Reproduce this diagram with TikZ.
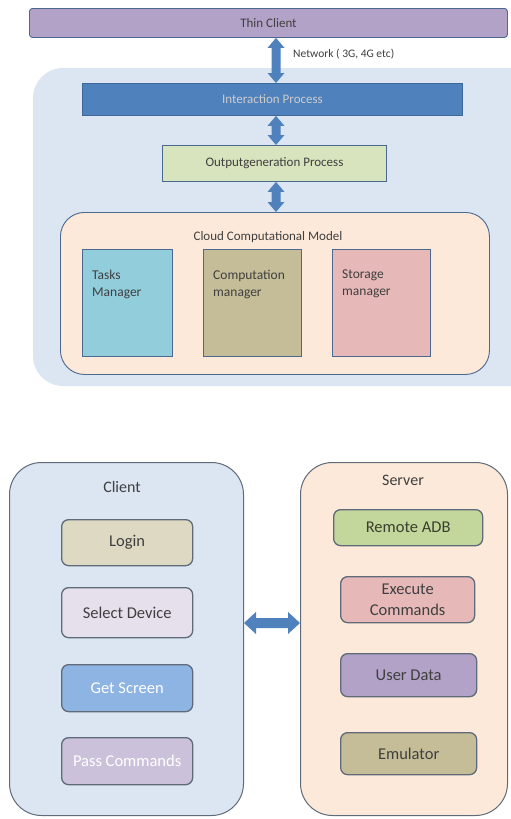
\documentclass[tikz,border=0pt]{standalone}
\usepackage{fontspec}
\setmainfont{Carlito}
\usetikzlibrary{calc}
\definecolor{txt}{HTML}{3F3F3F}
\definecolor{edge}{HTML}{4A6890}
\definecolor{gedge}{HTML}{5F6B78}
\definecolor{arrowblue}{HTML}{4F81BD}
\definecolor{paleblue}{HTML}{DCE6F2}
\definecolor{peach}{HTML}{FDE9D9}
\definecolor{purple1}{HTML}{B3A2C7}
\definecolor{green1}{HTML}{D7E4BD}
\definecolor{cyan1}{HTML}{92CDDC}
\definecolor{olive1}{HTML}{C4BD97}
\definecolor{rose1}{HTML}{E6B9B8}
\definecolor{tan1}{HTML}{DDD9C3}
\definecolor{lilac1}{HTML}{E6E0EC}
\definecolor{sky1}{HTML}{8EB4E3}
\definecolor{lav1}{HTML}{CCC1DA}
\definecolor{green2}{HTML}{C3D69B}
\tikzset{
  box/.style={draw=edge, line width=0.9pt, text=txt, inner sep=0pt, anchor=north west, align=center},
  topfont/.style={font=\fontsize{13}{15}\selectfont},
  rbox/.style={box, rounded corners=7pt, draw=gedge, line width=1.3pt, font=\fontsize{16.5}{21}\selectfont},
  bigbox/.style={box, rounded corners=32pt, draw=gedge, line width=1pt, fill=#1},
  lbl/.style={text=txt, inner sep=0pt, align=left, anchor=north west, font=\fontsize{13.5}{17}\selectfont},
  blockarrow/.style={fill=arrowblue, draw=none},
}
\newcommand{\vbiarrow}[2]{%
  \path let \p1=(#1), \p2=(#2) in
    [blockarrow] (\x1,\y1) -- (\x1+8.5pt,\y1-10pt) -- (\x1+4.5pt,\y1-10pt) -- (\x1+4.5pt,\y2+10pt) -- (\x1+8.5pt,\y2+10pt)
    -- (\x1,\y2) -- (\x1-8.5pt,\y2+10pt) -- (\x1-4.5pt,\y2+10pt) -- (\x1-4.5pt,\y1-10pt) -- (\x1-8.5pt,\y1-10pt) -- cycle;}
\newcommand{\hbiarrow}[2]{%
  \path let \p1=(#1), \p2=(#2) in
    [blockarrow] (\x1,\y1) -- (\x1+12pt,\y1+11pt) -- (\x1+12pt,\y1+5pt) -- (\x2-12pt,\y1+5pt) -- (\x2-12pt,\y1+11pt)
    -- (\x2,\y1) -- (\x2-12pt,\y1-11pt) -- (\x2-12pt,\y1-5pt) -- (\x1+12pt,\y1-5pt) -- (\x1+12pt,\y1-11pt) -- cycle;}
\begin{document}
\begin{tikzpicture}[x=1pt,y=-1pt]
\useasboundingbox (0,0) rectangle (511,819);
\fill[white] (0,0) rectangle (511,819);

% ---------- top diagram ----------
\fill[paleblue, rounded corners=30pt] (33,68) rectangle (540,386);

\node[box, fill=purple1, rounded corners=3pt, minimum width=478, minimum height=29, topfont] (tc) at (29,8) {Thin Client};
\node[box, fill=arrowblue, draw=arrowblue!80!black, minimum width=380, minimum height=32,
      text=white!80!black, topfont] (ip) at (82,83) {Interaction Process};
\node[box, fill=green1, minimum width=224, minimum height=36, topfont] (og) at (162,145) {Outputgeneration Process};
\node[box, fill=peach, rounded corners=24pt, minimum width=429, minimum height=162] (cm) at (60,212) {};
\node[text=txt, topfont] (cmt) at (268,237) {Cloud Computational Model};
\node[box, fill=cyan1, minimum width=90, minimum height=107] (tm) at (82,249) {};
\node[box, fill=olive1, minimum width=98, minimum height=107] (cpm) at (203,249) {};
\node[box, fill=rose1, minimum width=98, minimum height=107] (sm) at (332,249) {};
\node[lbl] (tmt) at ($(tm.north west)+(10,21)$) {Tasks\\Manager};
\node[lbl] (cpmt) at ($(cpm.north west)+(10,21)$) {Computation\\manager};
\node[lbl] (smt) at ($(sm.north west)+(10,21)$) {Storage\\manager};

\coordinate (ax) at (276,0);
\coordinate (a1t) at (tc.south -| ax);
\coordinate (a1b) at (ip.north -| ax);
\coordinate (a2t) at (ip.south -| ax);
\coordinate (a2b) at (og.north -| ax);
\coordinate (a3t) at (og.south -| ax);
\coordinate (a3b) at (cm.north -| ax);
\vbiarrow{a1t}{a1b}
\vbiarrow{a2t}{a2b}
\vbiarrow{a3t}{a3b}
\node[anchor=west, text=txt, inner sep=0pt, font=\fontsize{11.5}{13}\selectfont] (net) at (293,54) {Network ( 3G, 4G etc)};

% ---------- bottom diagram ----------
\node[bigbox=paleblue, minimum width=234, minimum height=353] (cl) at (9,462) {};
\node[bigbox=peach, minimum width=207, minimum height=353] (sv) at (300,462) {};
\node[text=txt, font=\fontsize{16}{18}\selectfont] (clt) at (122,487) {Client};
\node[text=txt, font=\fontsize{16}{18}\selectfont] (svt) at (403,480) {Server};

\node[rbox, fill=tan1, minimum width=131, minimum height=46] (login) at (61,519) {Login};
\node[rbox, fill=lilac1, minimum width=131, minimum height=50] (sel) at (61,587) {Select Device};
\node[rbox, fill=sky1, text=white, minimum width=131, minimum height=47] (gs) at (61,664) {Get Screen};
\node[rbox, fill=lav1, text=white, minimum width=131, minimum height=47] (pc) at (61,737) {Pass Commands};

\node[rbox, fill=green2, text=green2!30!black, minimum width=149, minimum height=36] (adb) at (333,509) {Remote ADB};
\node[rbox, fill=rose1, minimum width=134, minimum height=46] (ex) at (340,576) {Execute\\Commands};
\node[rbox, fill=purple1, minimum width=136, minimum height=43] (ud) at (340,653) {User Data};
\node[rbox, fill=olive1, minimum width=136, minimum height=42] (em) at (340,732) {Emulator};

\coordinate (hy) at (0,623);
\coordinate (h1) at (cl.east |- hy);
\coordinate (h2) at (sv.west |- hy);
\hbiarrow{h1}{h2}
\end{tikzpicture}
\end{document}
